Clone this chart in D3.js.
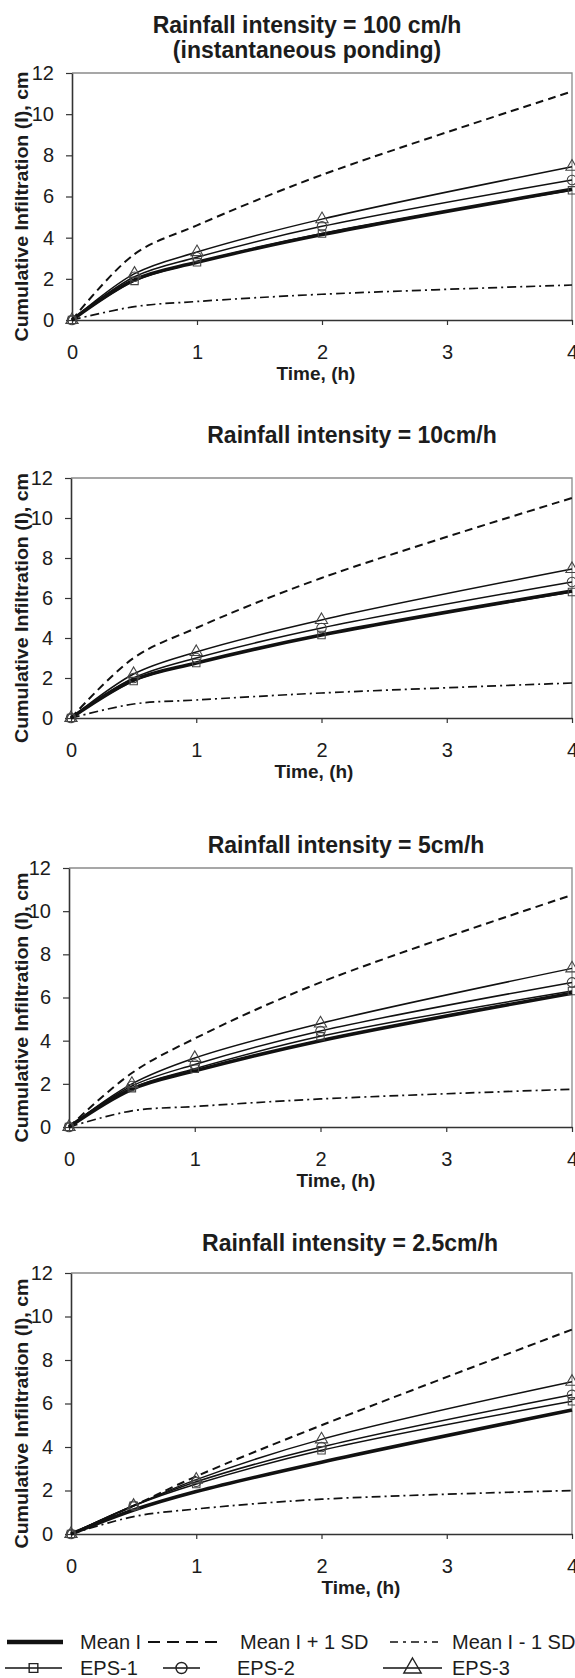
<!DOCTYPE html>
<html>
<head>
<meta charset="utf-8">
<script src="https://cdn.jsdelivr.net/npm/d3@7"></script>
<style>
  body { margin: 0; background: #fff; }
  svg { display: block; }
  text { font-family: "Liberation Sans", Arial, sans-serif; fill: #1c1c1c; }
</style>
</head>
<body>
<script>
const width = 575;
const height = 1678;

// data
const times = [0, 0.5, 1, 2, 4];
const xTicks = [0, 1, 2, 3, 4];
const yTicks = [0, 2, 4, 6, 8, 10, 12];
const panelTitles = [
    ["Rainfall intensity = 100 cm/h", "(instantaneous ponding)"],
    ["Rainfall intensity = 10cm/h"],
    ["Rainfall intensity = 5cm/h"],
    ["Rainfall intensity = 2.5cm/h"]
];
const seriesNames = ["Mean I", "Mean I + 1 SD", "Mean I - 1 SD", "EPS-1", "EPS-2", "EPS-3"];

// one row per panel (100, 10, 5, 2.5 cm/h)
const meanI = [
    [0, 1.95, 2.8, 4.15, 6.35],
    [0, 1.9, 2.75, 4.15, 6.35],
    [0, 1.75, 2.6, 4.0, 6.2],
    [0, 1.1, 1.95, 3.3, 5.7]
];
const meanPlusSD = [
    [0, 3.2, 4.6, 7.05, 11.1],
    [0, 3.0, 4.5, 7.0, 11.0],
    [0, 2.5, 4.1, 6.7, 10.75],
    [0, 1.3, 2.65, 5.0, 9.4]
];
const meanMinusSD = [
    [0, 0.65, 0.9, 1.25, 1.7],
    [0, 0.7, 0.9, 1.25, 1.75],
    [0, 0.75, 0.95, 1.3, 1.75],
    [0, 0.8, 1.15, 1.6, 2.0]
];
const eps1 = [
    [0, 1.9, 2.8, 4.2, 6.3],
    [0, 1.85, 2.75, 4.15, 6.3],
    [0, 1.8, 2.7, 4.2, 6.3],
    [0, 1.3, 2.3, 3.85, 6.1]
];
const eps2 = [
    [0, 2.1, 3.05, 4.55, 6.8],
    [0, 2.0, 3.0, 4.5, 6.8],
    [0, 1.9, 2.9, 4.45, 6.7],
    [0, 1.3, 2.4, 4.0, 6.4]
];
const eps3 = [
    [0, 2.25, 3.3, 4.9, 7.45],
    [0, 2.2, 3.3, 4.9, 7.45],
    [0, 2.0, 3.2, 4.8, 7.35],
    [0, 1.3, 2.5, 4.35, 7.0]
];

// layout of the four panels
const panels = [
    { left: 72, right: 572, top: 73,   bottom: 320,  titleY: [25, 50], titleX: 307, xTitleX: 316 },
    { left: 71, right: 572, top: 478,  bottom: 718,  titleY: [435],    titleX: 352, xTitleX: 314 },
    { left: 69, right: 572, top: 868,  bottom: 1127, titleY: [845],    titleX: 346, xTitleX: 336 },
    { left: 71, right: 572, top: 1273, bottom: 1534, titleY: [1243],   titleX: 350, xTitleX: 361 }
];

const styles = {
    "Mean I":        { width: 3.6, dash: null },
    "Mean I + 1 SD": { width: 2, dash: "8,5" },
    "Mean I - 1 SD": { width: 1.7, dash: "9,4,2,4" },
    "EPS-1":         { width: 1.5, dash: null, symbol: d3.symbolSquare, size: 55, lsize: 75 },
    "EPS-2":         { width: 1.5, dash: null, symbol: d3.symbolCircle, size: 70, lsize: 95 },
    "EPS-3":         { width: 1.5, dash: null, symbol: d3.symbolTriangle, size: 65, lsize: 130 }
};

const svg = d3.select("body").append("svg")
    .attr("width", width)
    .attr("height", height);

panels.forEach((p, k) => {
    const x = d3.scaleLinear().domain([0, 4]).range([p.left, p.right]);
    const y = d3.scaleLinear().domain([0, 12]).range([p.bottom, p.top]);
    const g = svg.append("g");

    // title
    panelTitles[k].forEach((t, i) => {
        g.append("text")
            .attr("x", p.titleX)
            .attr("y", p.titleY[i])
            .attr("dy", "0.35em")
            .attr("text-anchor", "middle")
            .style("font-size", "23px")
            .style("font-weight", "bold")
            .text(t);
    });

    // frame (top/right are light)
    g.append("path")
        .attr("d", `M${p.left},${p.top}H${p.right}V${p.bottom}`)
        .attr("fill", "none")
        .attr("stroke", "#8a8a8a")
        .attr("stroke-width", 1.3);

    const yAxis = g.append("g")
        .attr("transform", `translate(${p.left},0)`)
        .call(d3.axisLeft(y).tickValues(yTicks).tickFormat(d3.format("d"))
            .tickSize(6).tickSizeOuter(0).tickPadding(12));
    const xAxis = g.append("g")
        .attr("transform", `translate(0,${p.bottom})`)
        .call(d3.axisBottom(x).tickValues(xTicks).tickFormat(d3.format("d"))
            .tickSize(5).tickSizeOuter(0));

    [yAxis, xAxis].forEach(a => {
        a.attr("font-family", null).attr("font-size", null);
        a.select(".domain").attr("stroke", "#333").attr("stroke-width", 1.6);
        a.selectAll(".tick line").attr("stroke", "#333").attr("stroke-width", 1.2);
        a.selectAll(".tick text").style("font-size", "20px").attr("fill", "#1c1c1c");
    });
    xAxis.selectAll(".tick text").attr("y", 32).attr("dy", "0.35em");

    g.append("text")
        .attr("x", p.xTitleX)
        .attr("y", p.bottom + 53)
        .attr("dy", "0.35em")
        .attr("text-anchor", "middle")
        .style("font-size", "19px")
        .style("font-weight", "bold")
        .text("Time, (h)");

    g.append("text")
        .attr("transform", `translate(28,${(p.top + p.bottom) / 2 + 10}) rotate(-90)`)
        .attr("text-anchor", "middle")
        .attr("textLength", 270)
        .attr("lengthAdjust", "spacingAndGlyphs")
        .style("font-size", "19px")
        .style("font-weight", "bold")
        .text("Cumulative Infiltration (I), cm");

    const values = {
        "Mean I": meanI[k],
        "Mean I + 1 SD": meanPlusSD[k],
        "Mean I - 1 SD": meanMinusSD[k],
        "EPS-1": eps1[k],
        "EPS-2": eps2[k],
        "EPS-3": eps3[k]
    };

    const line = d3.line()
        .x((d, i) => x(times[i]))
        .y(d => y(d))
        .curve(d3.curveCatmullRom.alpha(0.5));

    const order = ["Mean I + 1 SD", "Mean I - 1 SD", "EPS-3", "EPS-2", "EPS-1", "Mean I"];
    order.forEach(name => {
        const s = styles[name];
        g.append("path")
            .datum(values[name])
            .attr("d", line)
            .attr("fill", "none")
            .attr("stroke", "#111")
            .attr("stroke-width", s.width)
            .attr("stroke-dasharray", s.dash)
            .attr("stroke-linejoin", "round");
    });

    ["EPS-1", "EPS-2", "EPS-3"].forEach(name => {
        const s = styles[name];
        g.selectAll(null)
            .data(values[name])
            .join("path")
            .attr("transform", (d, i) => `translate(${x(times[i])},${y(d)})`)
            .attr("d", d3.symbol().type(s.symbol).size(s.size))
            .attr("fill", "none")
            .attr("stroke", "#444")
            .attr("stroke-width", 1.1);
    });
});

// legend
const legendItems = [
    { name: "Mean I",        row: 0, x1: 7,   x2: 63,  tx: 80 },
    { name: "Mean I + 1 SD", row: 0, x1: 148, x2: 220, tx: 240 },
    { name: "Mean I - 1 SD", row: 0, x1: 390, x2: 438, tx: 452 },
    { name: "EPS-1",         row: 1, x1: 5,   x2: 62,  tx: 80 },
    { name: "EPS-2",         row: 1, x1: 163, x2: 200, tx: 237 },
    { name: "EPS-3",         row: 1, x1: 383, x2: 442, tx: 452 }
];
const rowY = [1642, 1668];
const legend = svg.append("g");
legendItems.forEach(it => {
    const s = styles[it.name];
    const yy = rowY[it.row];
    legend.append("line")
        .attr("x1", it.x1).attr("x2", it.x2)
        .attr("y1", yy).attr("y2", yy)
        .attr("stroke", "#111")
        .attr("stroke-width", it.name === "Mean I" ? 4.5 : s.width)
        .attr("stroke-dasharray", it.name === "Mean I + 1 SD" ? "12,7" : (it.name === "Mean I - 1 SD" ? "8,5,3,5" : s.dash));
    if (s.symbol) {
        legend.append("path")
            .attr("transform", `translate(${(it.x1 + it.x2) / 2},${yy})`)
            .attr("d", d3.symbol().type(s.symbol).size(s.lsize))
            .attr("fill", "none")
            .attr("stroke", "#222")
            .attr("stroke-width", 1.4);
    }
    legend.append("text")
        .attr("x", it.tx)
        .attr("y", yy)
        .attr("dy", "0.35em")
        .style("font-size", "20px")
        .text(it.name);
});
</script>
</body>
</html>
